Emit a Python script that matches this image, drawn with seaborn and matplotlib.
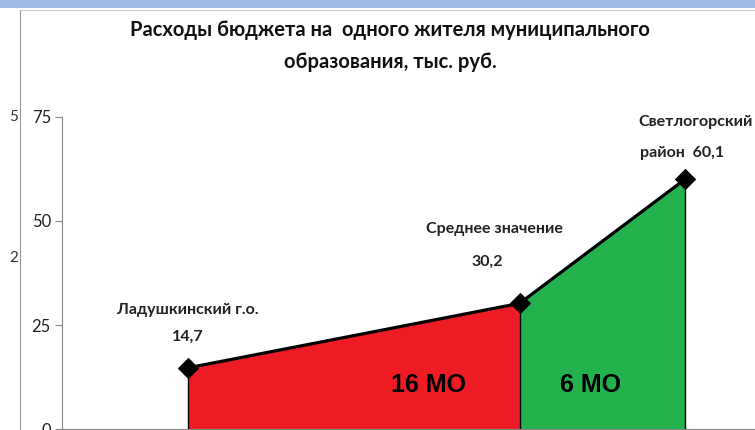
import matplotlib
matplotlib.use("Agg")
import matplotlib.pyplot as plt
import seaborn as sns
import pandas as pd

# данные
names = ["Ладушкинский г.о.", "Среднее значение", "Светлогорский район"]
pos = [1, 3, 4]
values = [14.7, 30.2, 60.1]
groups = ["16 МО", "6 МО"]
yticks = [0, 25, 50, 75]

df = pd.DataFrame({"pos": pos, "value": values, "name": names})

sns.set_style("white")
plt.rcParams["font.family"] = ["Lato", "DejaVu Sans"]

fig = plt.figure(figsize=(7.55, 4.3), dpi=100)
ax = fig.add_axes([62 / 755, 1 / 430, 1 - 62 / 755, (429 - 117) / 430])

# заливка
ax.fill_between(df["pos"][:2], df["value"][:2], 0, color="#ED1C24", lw=0)
ax.fill_between(df["pos"][1:], df["value"][1:], 0, color="#22B14C", lw=0)
for p, v in zip(pos, values):
    ax.plot([p, p], [0, v], color="black", lw=1)

sns.lineplot(data=df, x="pos", y="value", ax=ax, color="black", lw=2.3,
             marker="D", markersize=10, markeredgecolor="black")

ax.set_xlim(0.24, 4.42)
ax.set_ylim(0, 75)
ax.set_yticks(yticks)
ax.set_xticks([])
ax.set_xlabel("")
ax.set_ylabel("")
ax.tick_params(axis="y", direction="out", length=5, width=0.8, color="#888888",
               labelsize=12, labelcolor="#222222", left=True, pad=3)
for s in ["top", "right"]:
    ax.spines[s].set_visible(False)
for s in ["left", "bottom"]:
    ax.spines[s].set_color("#888888")
    ax.spines[s].set_linewidth(0.8)

lab = dict(ha="center", va="center", fontsize=11.5, fontweight="bold",
           color="#222222", textcoords="offset pixels")
ax.annotate("Ладушкинский г.о.", (pos[0], values[0]), xytext=(0, 58), **lab)
ax.annotate("14,7", (pos[0], values[0]), xytext=(0, 31), **lab)
ax.annotate("Среднее значение", (pos[1], values[1]), xytext=(-25, 74), **lab)
ax.annotate("30,2", (pos[1], values[1]), xytext=(-32, 42), **lab)
ax.annotate("Светлогорский", (pos[2], values[2]), xytext=(10, 57), **lab)
ax.annotate("район  60,1", (pos[2], values[2]), xytext=(-3, 26), **lab)

ax.text(2.45, 10.6, groups[0], ha="center", va="center", fontsize=18,
        fontweight="bold", color="black", family="Liberation Sans")
ax.text(3.43, 10.6, groups[1], ha="center", va="center", fontsize=18,
        fontweight="bold", color="black", family="Liberation Sans")

fig.text(390 / 755, 1 - 30 / 430, "Расходы бюджета на  одного жителя муниципального",
         ha="center", va="center", fontsize=14.5, fontweight="bold", color="#111111")
fig.text(390 / 755, 1 - 62 / 430, "образования, тыс. руб.",
         ha="center", va="center", fontsize=14.5, fontweight="bold", color="#111111")

# рамка слайда
fig.patches.append(plt.Rectangle((0, 1 - 8 / 430), 1, 8 / 430, transform=fig.transFigure,
                                 color="#9DBCE4", lw=0))
fig.lines.append(plt.Line2D([20 / 755, 20 / 755], [0, 1 - 10 / 430], transform=fig.transFigure,
                            color="#999999", lw=0.8))
fig.lines.append(plt.Line2D([20 / 755, 1], [1 - 10 / 430, 1 - 10 / 430], transform=fig.transFigure,
                            color="#bbbbbb", lw=0.6))
fig.text(14 / 755, 1 - 117 / 430, "5", ha="center", va="center", fontsize=11, color="#333333")
fig.text(14 / 755, 1 - 258 / 430, "2", ha="center", va="center", fontsize=11, color="#333333")

fig.savefig("out.png", dpi=100)
